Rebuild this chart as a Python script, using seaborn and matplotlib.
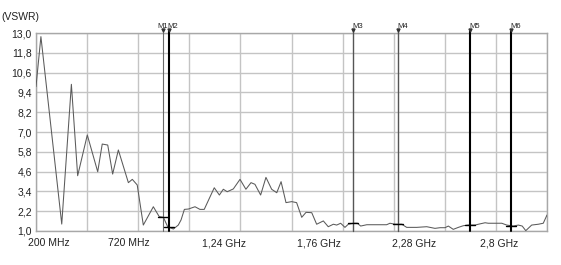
import numpy as np
import pandas as pd
import matplotlib
matplotlib.use("Agg")
import matplotlib.pyplot as plt
import matplotlib.transforms as mtransforms
import seaborn as sns

# ---- data ----
freq_mhz = [200, 225, 331, 380, 412, 461, 514, 537, 565, 590, 619, 670, 690, 715,
            746, 797, 827, 848, 870, 899, 924, 938, 955, 975, 1009, 1034, 1056,
            1082, 1107, 1133, 1153, 1173, 1204, 1238, 1268, 1294, 1314, 1343, 1370,
            1399, 1425, 1447, 1472, 1501, 1526, 1552, 1574, 1603, 1628, 1662, 1687,
            1713, 1730, 1750, 1772, 1789, 1814, 1835, 1852, 1883, 1984, 2001, 2027,
            2061, 2086, 2137, 2188, 2230, 2256, 2281, 2298, 2323, 2349, 2374, 2400,
            2434, 2451, 2485, 2501, 2570, 2595, 2629, 2654, 2674, 2692, 2722, 2756,
            2781, 2800]
vswr = [9.75, 12.78, 1.42, 9.89, 4.35, 6.82, 4.59, 6.27, 6.21, 4.45, 5.91, 3.93,
        4.13, 3.79, 1.36, 2.47, 1.87, 1.83, 1.26, 1.12, 1.36, 1.67, 2.31, 2.33,
        2.47, 2.31, 2.31, 2.98, 3.62, 3.18, 3.53, 3.38, 3.55, 4.13, 3.53, 3.93,
        3.83, 3.18, 4.25, 3.53, 3.32, 3.99, 2.72, 2.78, 2.72, 1.83, 2.13, 2.11,
        1.41, 1.61, 1.26, 1.41, 1.36, 1.47, 1.22, 1.41, 1.47, 1.47, 1.30, 1.38,
        1.38, 1.47, 1.41, 1.41, 1.22, 1.22, 1.26, 1.16, 1.20, 1.20, 1.30, 1.10,
        1.22, 1.32, 1.36, 1.36, 1.41, 1.50, 1.47, 1.47, 1.36, 1.30, 1.36, 1.30,
        1.02, 1.36, 1.41, 1.47, 1.97]

marker_names = ["M1", "M2", "M3", "M4", "M5", "M6"]
marker_freq = [846, 875, 1815, 2043, 2408, 2618]
marker_color = ["#6a6a6a", "#000000", "#555555", "#555555", "#000000", "#000000"]
marker_lw = [0.8, 1.5, 1.0, 1.0, 1.5, 1.5]

y_ticks = [1.0, 2.2, 3.4, 4.6, 5.8, 7.0, 8.2, 9.4, 10.6, 11.8, 13.0]
y_labels = ["1,0", "2,2", "3,4", "4,6", "5,8", "7,0", "8,2", "9,4", "10,6", "11,8", "13,0"]
x_grid = [200, 460, 720, 980, 1240, 1500, 1760, 2020, 2280, 2540, 2800]
x_labels = ["200 MHz", "720 MHz", "1,24 GHz", "1,76 GHz", "2,28 GHz", "2,8 GHz"]
x_label_pos = [0.026, 0.181, 0.368, 0.553, 0.740, 0.906]

# ---- figure ----
sns.set_style("white")
plt.rcParams['font.family'] = ['Liberation Sans Narrow', 'Liberation Sans', 'DejaVu Sans']

W, H = 561, 265
fig = plt.figure(figsize=(W / 100, H / 100), dpi=100)
ax = fig.add_axes([36 / W, (H - 231) / H, (547 - 36) / W, (231 - 33) / H])

df = pd.DataFrame({"f": freq_mhz, "v": vswr})
sns.lineplot(data=df, x="f", y="v", ax=ax, color="#5a5a5a", linewidth=0.75,
             sort=False, estimator=None, zorder=3)

ax.set_xlim(200, 2800)
ax.set_ylim(1.0, 13.0)
ax.set_yticks(y_ticks)
ax.set_yticklabels(y_labels, fontsize=7.5, color="#222222")
ax.set_xticks(x_grid)
ax.set_xticklabels([])
ax.tick_params(axis="both", length=0, pad=3)
ax.grid(True, color="#c4c4c4", linewidth=1.0)
ax.set_axisbelow(True)
for s in ax.spines.values():
    s.set_color("#a8a8a8")
    s.set_linewidth(1.0)
ax.set_xlabel("")
ax.set_ylabel("")

trans = mtransforms.blended_transform_factory(ax.transAxes, ax.transAxes)
for lab, xp in zip(x_labels, x_label_pos):
    ax.text(xp, -0.062, lab, transform=trans, ha="center", va="center",
            fontsize=7.5, color="#222222")

fig.text(1 / W, 1 - 17 / H, "(VSWR)", ha="left", va="center", fontsize=7.5, color="#222222")

# markers
tx = mtransforms.blended_transform_factory(ax.transData, ax.transAxes)
for i, (name, f, c, lw) in enumerate(zip(marker_names, marker_freq, marker_color, marker_lw)):
    ax.plot([f, f], [0, 1.012], transform=tx, color=c, linewidth=lw, clip_on=False, zorder=4)
    ax.plot([f], [1.014], transform=tx, marker="v", markersize=2.2, color="#333333",
            clip_on=False, zorder=5)
    val = np.interp(f, freq_mhz, vswr)
    ax.plot([f - 25, f + 25], [val, val], color="#000000", linewidth=1.0, zorder=5)
    if i == 0:
        ax.text(marker_freq[1] - 5, 1.032, name, transform=tx, ha="right", va="center",
                fontsize=5.5, color="#222222")
    else:
        ax.text(f - 5, 1.032, name, transform=tx, ha="left", va="center", fontsize=5.5,
                color="#222222")

fig.savefig("out.png", dpi=100)
